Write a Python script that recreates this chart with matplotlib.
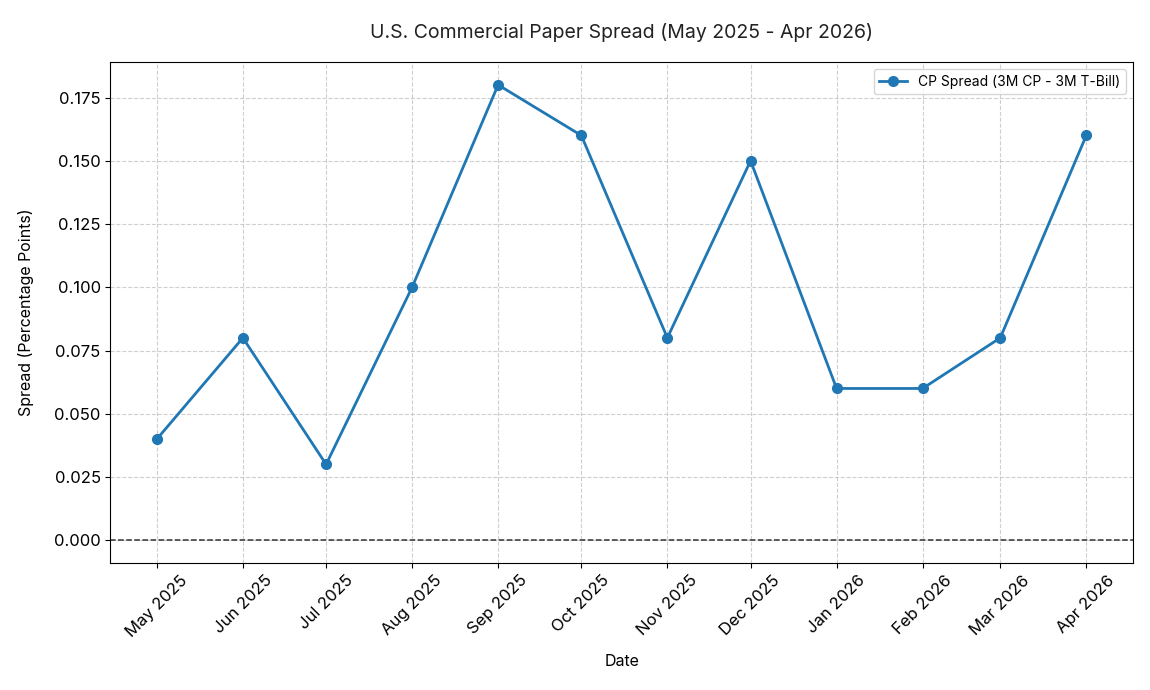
import matplotlib
matplotlib.use("Agg")
import matplotlib.pyplot as plt
import matplotlib.dates as mdates
import pandas as pd

plt.rcParams["font.family"] = ["Inter", "DejaVu Sans"]

# Monthly spread data
months = ["2025-05", "2025-06", "2025-07", "2025-08", "2025-09", "2025-10",
          "2025-11", "2025-12", "2026-01", "2026-02", "2026-03", "2026-04"]
spread = [0.04, 0.08, 0.03, 0.10, 0.18, 0.16, 0.08, 0.15, 0.06, 0.06, 0.08, 0.16]

dates = pd.to_datetime(months)

fig, ax = plt.subplots(figsize=(11.5, 6.9), dpi=100)
ax.plot(dates, spread, marker="o", linewidth=2, markersize=7,
        color="#1f77b4", label="CP Spread (3M CP - 3M T-Bill)")
ax.axhline(0, color="#333333", linestyle="--", linewidth=1.1)

ax.set_title("U.S. Commercial Paper Spread (May 2025 - Apr 2026)",
             fontsize=14, pad=17, color="#222222")
ax.set_xlabel("Date", fontsize=11.5, labelpad=10)
ax.set_ylabel("Spread (Percentage Points)", fontsize=11.5, labelpad=14)

ax.set_xticks(dates)
ax.xaxis.set_major_formatter(mdates.DateFormatter("%b %Y"))
plt.setp(ax.get_xticklabels(), rotation=45)
ax.tick_params(labelsize=12)

ax.grid(True, linestyle="--", alpha=0.6)
ax.legend(loc="upper right", fontsize=10)

fig.subplots_adjust(left=0.096, right=0.985, top=0.910, bottom=0.184)
fig.savefig("out.png", dpi=100)
